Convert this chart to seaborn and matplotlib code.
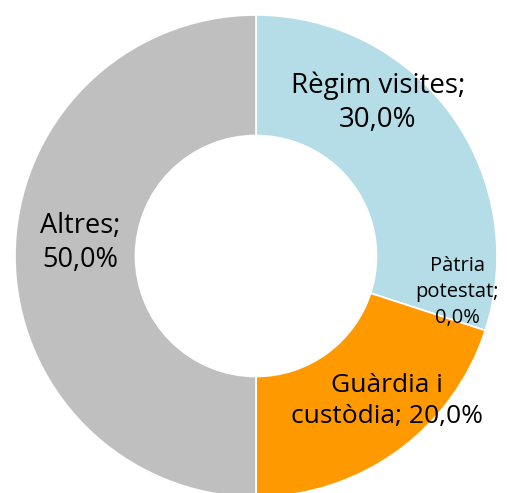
import matplotlib
matplotlib.use("Agg")
import matplotlib.pyplot as plt
import seaborn as sns

categories = ["Règim visites", "Pàtria potestat", "Guàrdia i custòdia", "Altres"]
values = [30.0, 0.0, 20.0, 50.0]
label_texts = ["Règim visites;\n30,0%", "Pàtria\npotestat;\n0,0%", "Guàrdia i\ncustòdia; 20,0%", "Altres;\n50,0%"]
colors = ["#B4DDE8", "#5B9BD5", "#FF9900", "#BFBFBF"]

sns.set_theme(style="white")
plt.rcParams['font.family'] = ['Open Sans', 'DejaVu Sans']

W, H = 507, 493
fig = plt.figure(figsize=(W / 100, H / 100), dpi=100)
cx, cy, r = 256, 256, 241
ax = fig.add_axes([(cx - r) / W, (H - cy - r) / H, 2 * r / W, 2 * r / H])
pal = sns.color_palette(colors)
ax.pie(values, colors=pal, startangle=90, counterclock=False, radius=1,
       wedgeprops=dict(width=0.5, edgecolor="white", linewidth=1.2))
ax.set_xlim(-1, 1)
ax.set_ylim(-1, 1)
ax.axis("off")

def px(p, q):
    return (p - cx) / r, (cy - q) / r

positions = [px(378, 103), px(457, 292), px(387, 401), px(80, 243)]
sizes = [20, 14.5, 19, 19.5]
spacings = [1.3, 1.4, 1.3, 1.3]
for t, (x, y), s, ls in zip(label_texts, positions, sizes, spacings):
    ax.text(x, y, t, ha="center", va="center", fontsize=s, color="black", linespacing=ls)

fig.savefig("out.png", dpi=100)
